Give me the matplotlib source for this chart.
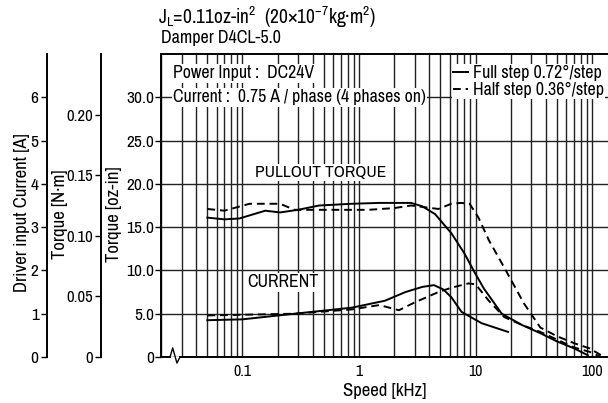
import matplotlib.pyplot as plt
from matplotlib import font_manager
from matplotlib.lines import Line2D

# narrow sans if the system has one, else plain DejaVu at a smaller size
narrow = None
for f in font_manager.fontManager.ttflist:
    if 'Narrow' in f.name or 'Condensed' in f.name:
        narrow = (f.name, 'normal')
        break
    if f.stretch == 'condensed' and f.name == 'DejaVu Sans':
        narrow = ('DejaVu Sans', 'condensed')
if narrow:
    plt.rcParams['font.family'] = [narrow[0], 'DejaVu Sans']
    plt.rcParams['font.stretch'] = narrow[1]
    k = 1.0
else:
    plt.rcParams['font.family'] = ['DejaVu Sans']
    k = 0.85

# pullout torque [oz-in]
full_torque_speed = [0.05, 0.07, 0.094, 0.157, 0.21, 0.3, 0.455, 0.87, 1.5, 2.8, 3.5,
                     4.5, 6.2, 8.0, 9.8, 11.8, 16.8, 25, 36, 50, 70, 92]
full_torque = [16.1, 15.9, 16.0, 16.9, 16.7, 17.0, 17.5, 17.7, 17.8, 17.8, 17.4,
               16.5, 14.3, 12.0, 9.8, 7.9, 5.0, 3.7, 2.75, 1.8, 1.0, 0.2]

half_torque_speed = [0.05, 0.07, 0.115, 0.21, 0.28, 0.6, 1.2, 2.0, 2.8, 4.8, 6.2,
                     7.5, 8.9, 10.6, 13, 17.7, 26, 36, 50, 70, 95, 127]
half_torque = [17.1, 16.9, 17.7, 17.7, 17.0, 17.0, 17.0, 17.2, 17.5, 17.1, 17.7,
               17.8, 17.7, 16.1, 13.5, 10.3, 6.2, 3.4, 2.4, 1.6, 1.0, 0.0]

# driver current, drawn on the oz-in scale
full_current_speed = [0.05, 0.1, 0.28, 0.87, 1.67, 2.5, 3.5, 4.4, 5.3, 6.2, 7.6, 11.3, 19]
full_current = [4.25, 4.35, 5.0, 5.7, 6.5, 7.5, 8.1, 8.3, 7.8, 6.9, 5.2, 3.9, 2.9]

half_current_speed = [0.05, 0.28, 0.87, 1.5, 2.2, 3.0, 4.8, 6.2, 8.7, 10, 13, 17.7,
                      25, 36, 70, 95, 120]
half_current = [4.8, 5.0, 5.5, 6.0, 5.4, 6.3, 7.5, 8.0, 8.5, 8.4, 6.5, 4.6,
                3.7, 2.9, 1.1, 0.6, 0.0]

ozin_ticks = [0, 5, 10, 15, 20, 25, 30]
ozin_labels = ["0", "5.0", "10.0", "15.0", "20.0", "25.0", "30.0"]
nm_ticks = [0, 0.05, 0.10, 0.15, 0.20]
nm_labels = ["0", "0.05", "0.10", "0.15", "0.20"]
amp_ticks = [0, 1, 2, 3, 4, 5, 6]
speed_ticks = [0.1, 1, 10, 100]
speed_labels = ["0.1", "1", "10", "100"]

W, H = 608, 403
fig = plt.figure(figsize=(W / 100, H / 100), dpi=100)
bottom = 1 - 357 / H
height = (357 - 54) / H
ax = fig.add_axes([161 / W, bottom, 1 - 161 / W, height])

lw = 1.4
dash = (0, (4, 2.5))
ax.plot(full_torque_speed, full_torque, color='black', lw=lw)
ax.plot(half_torque_speed, half_torque, color='black', lw=lw, ls=dash)
ax.plot(full_current_speed, full_current, color='black', lw=lw)
ax.plot(half_current_speed, half_current, color='black', lw=lw, ls=dash)

ax.set_xscale('log')
ax.set_xlim(0.02, 137)
ax.set_ylim(0, 35)
ax.set_xticks(speed_ticks)
ax.set_xticklabels(speed_labels)
ax.set_yticks(ozin_ticks)
ax.set_yticklabels(ozin_labels)
ax.tick_params(axis='x', which='both', length=0, labelsize=11.5 * k, pad=5)
ax.tick_params(axis='y', length=4, width=1, labelsize=12.5 * k, pad=1)
ax.grid(True, which='both', axis='x', color='#222222', lw=1.0)
ax.grid(True, which='major', axis='y', color='#222222', lw=1.0)
ax.set_axisbelow(True)
for s in ax.spines.values():
    s.set_linewidth(1.4)
ax.spines['right'].set_visible(False)
ax.set_xlabel('Speed [kHz]', fontsize=13.5 * k, labelpad=3)

# axis break mark on the speed axis
ax.spines['bottom'].set_visible(False)
trans = ax.get_xaxis_transform()
ax.plot([0.02, 0.0239], [0, 0], color='black', lw=1.4, transform=trans, clip_on=False)
ax.plot([0.0239, 0.0252, 0.0274, 0.0291], [0, 0.03, -0.02, 0.0],
        color='black', lw=1.0, transform=trans, clip_on=False)
ax.plot([0.0291, 137], [0, 0], color='black', lw=1.4, transform=trans, clip_on=False)

# conditions and legend
box = dict(facecolor='white', edgecolor='none', pad=1.0)
ax.text(0.0254, 32.75, 'Power Input :  DC24V', fontsize=12.8 * k,
        va='center', ha='left', bbox=box)
ax.text(0.0254, 30.0, 'Current :  0.75 A / phase (4 phases on)', fontsize=12.8 * k,
        va='center', ha='left', bbox=box)
handles = [Line2D([], [], color='black', lw=lw),
           Line2D([], [], color='black', lw=lw, ls=dash)]
leg = ax.legend(handles, ['Full step 0.72°/step', 'Half step 0.36°/step'],
                loc='upper right', bbox_to_anchor=(0.997, 0.972), fontsize=13 * k,
                handlelength=0.8, handletextpad=0.3, borderpad=0.05,
                labelspacing=0.05, frameon=True, fancybox=False, borderaxespad=0.1)
leg.get_frame().set_edgecolor('none')
leg.get_frame().set_alpha(1)

ax.text(0.128, 21.3, 'PULLOUT TORQUE', fontsize=12.5 * k, va='center', ha='left', bbox=box)
ax.text(0.111, 8.65, 'CURRENT', fontsize=12.8 * k, va='center', ha='left', bbox=box)

fig.text(158 / W, 1 - 17 / H,
         r'J$_\mathregular{L}$=0.11oz-in$^\mathregular{2}$  (20×10$^\mathregular{-7}$kg·m$^\mathregular{2}$)',
         fontsize=14 * k, va='center', ha='left')
fig.text(161 / W, 1 - 38 / H, 'Damper D4CL-5.0', fontsize=13 * k, va='center', ha='left')

# extra scales: N·m and driver current
ax_nm = fig.add_axes([101 / W, bottom, 0.0001, height])
ax_nm.set_ylim(0, 0.25)
ax_nm.set_yticks(nm_ticks)
ax_nm.set_yticklabels(nm_labels)
ax_amp = fig.add_axes([47 / W, bottom, 0.0001, height])
ax_amp.set_ylim(0, 7)
ax_amp.set_yticks(amp_ticks)
for a in (ax_nm, ax_amp):
    for side in ('top', 'right', 'bottom'):
        a.spines[side].set_visible(False)
    a.spines['left'].set_linewidth(1.4)
    a.set_xticks([])
    a.set_facecolor('none')
    a.tick_params(axis='y', length=4, width=1, labelsize=12 * k, pad=2)
ax_amp.tick_params(axis='y', labelsize=12.5 * k)

fig.text(22 / W, 1 - 213 / H, 'Driver input Current [A]', rotation=90,
         fontsize=13.5 * k, va='center', ha='center')
fig.text(60 / W, 1 - 214 / H, 'Torque [N·m]', rotation=90,
         fontsize=13.5 * k, va='center', ha='center')
fig.text(114 / W, 1 - 214 / H, 'Torque [oz-in]', rotation=90,
         fontsize=13.5 * k, va='center', ha='center')

fig.savefig('out.png', dpi=100)
